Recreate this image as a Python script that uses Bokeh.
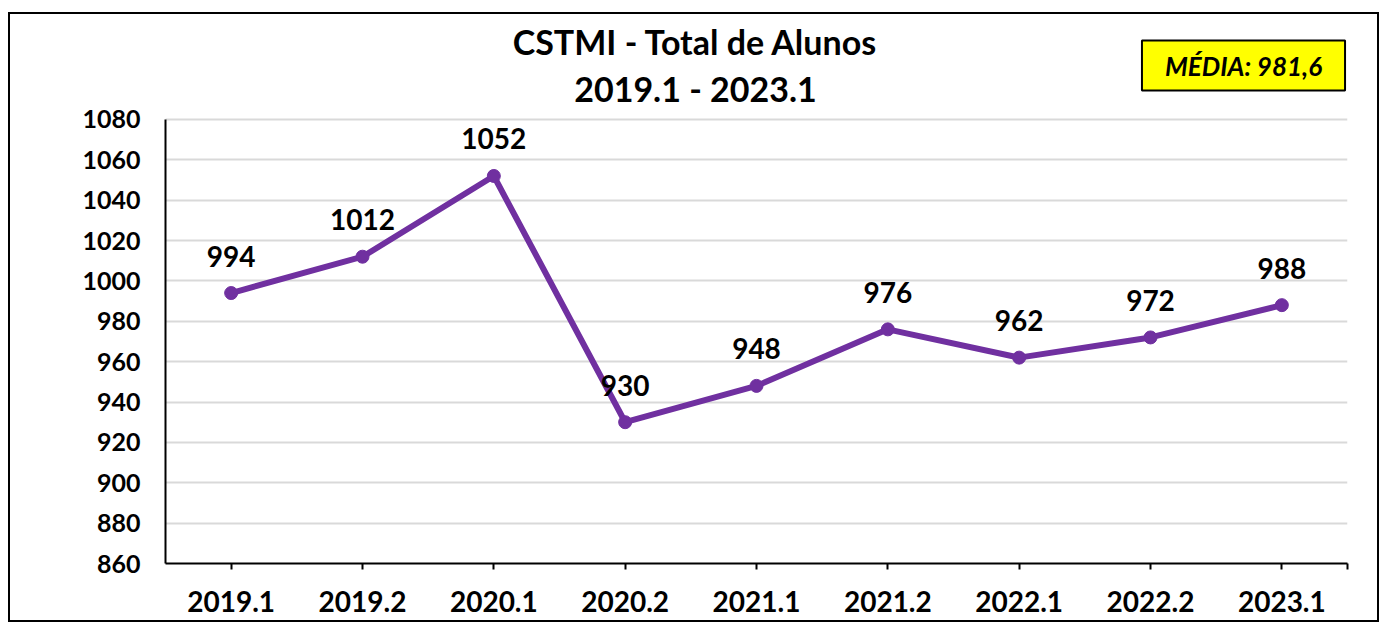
from bokeh.plotting import figure
from bokeh.models import ColumnDataSource, FixedTicker, Label, Range1d
from bokeh.core.properties import value
from bokeh.embed import file_html
from bokeh.resources import INLINE

categories = ["2019.1", "2019.2", "2020.1", "2020.2", "2021.1", "2021.2", "2022.1", "2022.2", "2023.1"]
totals = [994, 1012, 1052, 930, 948, 976, 962, 972, 988]
y_ticks = [860, 880, 900, 920, 940, 960, 980, 1000, 1020, 1040, 1060, 1080]
title_lines = ["CSTMI - Total de Alunos", "2019.1 - 2023.1"]
media_text = "MÉDIA: 981,6"

FONT = "Lato"
PURPLE = "#7030A0"

xs = [i + 0.5 for i in range(len(categories))]
src = ColumnDataSource(dict(x=xs, y=totals, lbl=[str(v) for v in totals]))

# frame extends to the top of the canvas so the title texts are not clipped;
# the axis line is bounded to the data scale 860..1080
Y_TOP = 1132.0
p = figure(width=1371, height=610, output_backend="svg", toolbar_location=None,
           x_range=Range1d(0, len(categories)), y_range=Range1d(860, Y_TOP),
           min_border_left=155, min_border_right=34, min_border_top=0, min_border_bottom=61)
p.styles = {"border": "2px solid black", "margin-left": "8px", "margin-top": "12px"}
p.outline_line_color = None
p.background_fill_color = "white"
p.border_fill_color = "white"

p.line("x", "y", source=src, line_color=PURPLE, line_width=6)
p.scatter("x", "y", source=src, size=13, fill_color=PURPLE, line_color=PURPLE)
p.text("x", "y", text="lbl", source=src, text_font=value(FONT), text_font_style="bold",
       text_font_size="28px", text_align="center", text_baseline="middle", y_offset=-37,
       text_color="black")

# axes
p.xaxis.ticker = FixedTicker(ticks=xs + [len(categories)])
p.xaxis.major_label_overrides = {**{x: c for x, c in zip(xs, categories)}, len(categories): ""}
p.xaxis.major_label_text_font = FONT
p.xaxis.major_label_text_font_style = "bold"
p.xaxis.major_label_text_font_size = "28px"
p.xaxis.major_label_text_color = "black"
p.xaxis.major_label_standoff = 21
p.xaxis.axis_line_color = "black"
p.xaxis.axis_line_width = 2
p.xaxis.major_tick_line_color = "black"
p.xaxis.major_tick_line_width = 2
p.xaxis.major_tick_out = 6
p.xaxis.major_tick_in = 0
p.xaxis.minor_tick_line_color = None

p.yaxis.ticker = FixedTicker(ticks=y_ticks)
p.yaxis.bounds = (860, 1080)
p.yaxis.major_label_text_font = FONT
p.yaxis.major_label_text_font_style = "bold"
p.yaxis.major_label_text_font_size = "25px"
p.yaxis.major_label_text_color = "black"
p.yaxis.major_label_standoff = 19
p.yaxis.axis_line_color = "black"
p.yaxis.axis_line_width = 2
p.yaxis.major_tick_line_color = None
p.yaxis.minor_tick_line_color = None

p.xgrid.grid_line_color = None
p.ygrid.grid_line_color = "#D9D9D9"
p.ygrid.grid_line_width = 2

# titles (screen units, measured from the frame's bottom-left corner)
for txt, sy in zip(title_lines, [522, 475]):
    p.add_layout(Label(x=530, y=sy, x_units="screen", y_units="screen", text=txt,
                       text_font=FONT, text_font_style="bold", text_font_size="34px",
                       text_align="center", text_baseline="middle", text_color="black"))

p.add_layout(Label(x=1078, y=498, x_units="screen", y_units="screen", text=media_text,
                   text_font=FONT, text_font_style="bold italic", text_font_size="26px",
                   text_align="center", text_baseline="middle", text_color="black",
                   background_fill_color="#FFFF00", border_line_color="black", border_line_width=2,
                   padding=dict(left=23, right=23, top=9, bottom=9)))

open("out.html", "w").write(file_html(p, INLINE))
